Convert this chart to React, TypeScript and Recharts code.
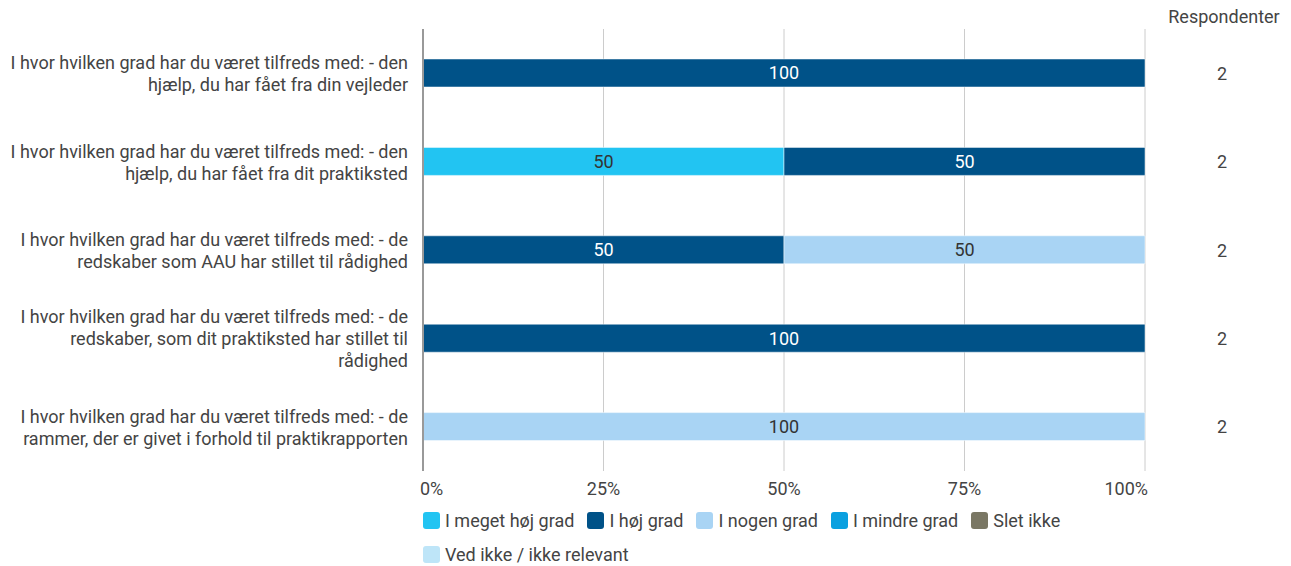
import React from 'react';
import { BarChart, Bar, XAxis, YAxis, CartesianGrid, LabelList, ReferenceLine } from 'recharts';

const questions = [
  'I hvor hvilken grad har du været tilfreds med: - den\nhjælp, du har fået fra din vejleder',
  'I hvor hvilken grad har du været tilfreds med: - den\nhjælp, du har fået fra dit praktiksted',
  'I hvor hvilken grad har du været tilfreds med: - de\nredskaber som AAU har stillet til rådighed',
  'I hvor hvilken grad har du været tilfreds med: - de\nredskaber, som dit praktiksted har stillet til\nrådighed',
  'I hvor hvilken grad har du været tilfreds med: - de\nrammer, der er givet i forhold til praktikrapporten',
];

const meget = [0, 50, 0, 0, 0];
const hoej = [100, 50, 50, 100, 0];
const nogen = [0, 0, 50, 0, 100];
const mindre = [0, 0, 0, 0, 0];
const slet = [0, 0, 0, 0, 0];
const vedIkke = [0, 0, 0, 0, 0];
const respondents = [2, 2, 2, 2, 2];

const xTicks = [0, 25, 50, 75, 100];

const series = [
  { key: 'meget', name: 'I meget høj grad', color: '#22C4F2', text: '#333', values: meget },
  { key: 'hoej', name: 'I høj grad', color: '#005288', text: '#fff', values: hoej },
  { key: 'nogen', name: 'I nogen grad', color: '#A9D4F4', text: '#333', values: nogen },
  { key: 'mindre', name: 'I mindre grad', color: '#0AA0E0', text: '#fff', values: mindre },
  { key: 'slet', name: 'Slet ikke', color: '#7A7764', text: '#fff', values: slet },
  { key: 'vedIkke', name: 'Ved ikke / ikke relevant', color: '#BEE5F8', text: '#333', values: vedIkke },
];

const data = questions.map((q, i) => {
  const row: Record<string, any> = { name: q, n: respondents[i] };
  series.forEach(s => {
    row[s.key] = s.values[i] || undefined;
  });
  return row;
});

const FONT = 'Roboto, sans-serif';
const FS = 18;

const LeftTick = (props: any) => {
  const { x, y, payload } = props;
  const lines = String(payload.value).split('\n');
  const lh = 22;
  const start = y - ((lines.length - 1) * lh) / 2;
  return (
    <text x={x - 7} y={start} textAnchor="end" fill="#444" fontSize={FS} fontFamily={FONT} dominantBaseline="central">
      {lines.map((l, i) => (
        <tspan key={i} x={x - 7} y={start + i * lh}>{l}</tspan>
      ))}
    </text>
  );
};

const RightTick = (props: any) => {
  const { x, y, index } = props;
  return (
    <text x={x + 69} y={y} textAnchor="middle" fill="#444" fontSize={FS} fontFamily={FONT} dominantBaseline="central">
      {respondents[index]}
    </text>
  );
};

const XTick = (props: any) => {
  const { x, y, payload } = props;
  const v = payload.value;
  const anchor = v === 0 ? 'start' : v === 100 ? 'end' : 'middle';
  const dx = v === 0 ? -3 : v === 100 ? 3 : 0;
  return (
    <text x={x + dx} y={y + 16} textAnchor={anchor} fill="#444" fontSize={FS} fontFamily={FONT}>
      {v + '%'}
    </text>
  );
};

export default function App() {
  return (
    <div style={{ position: 'absolute', left: 0, top: 0, width: 1291, height: 566, fontFamily: FONT }}>
      <BarChart
        width={1291}
        height={500}
        data={data}
        layout="vertical"
        margin={{ top: 29, right: 0, bottom: 0, left: 0 }}
      >
        <CartesianGrid horizontal={false} stroke="#ccc" />
        <XAxis type="number" domain={[0, 100]} ticks={xTicks} axisLine={false} tickLine={false} height={29} tick={<XTick />} />
        <YAxis type="category" dataKey="name" width={423} axisLine={false} tickLine={false} tick={<LeftTick />} />
        <YAxis
          yAxisId="r"
          orientation="right"
          type="category"
          dataKey="name"
          width={146}
          axisLine={false}
          tickLine={false}
          tick={<RightTick />}
          label={{ value: 'Respondenter', position: 'top', offset: 6, dx: 6, fill: '#444', fontSize: FS, fontFamily: FONT }}
        />
        <ReferenceLine x={0} stroke="#999" strokeWidth={2} />
        {series.map(s => (
          <Bar key={s.key} dataKey={s.key} name={s.name} stackId="a" fill={s.color} stroke="#fff" strokeWidth={0.5} barSize={28} isAnimationActive={false}>
            <LabelList dataKey={s.key} position="center" fill={s.text} fontSize={FS} fontFamily={FONT} />
          </Bar>
        ))}
      </BarChart>
      <div style={{ position: 'absolute', left: 423, top: 509, width: 700, display: 'flex', flexWrap: 'wrap', columnGap: 13, rowGap: 12 }}>
        {series.map(s => (
          <div key={s.key} style={{ display: 'flex', alignItems: 'center', fontSize: FS, color: '#444', height: 22 }}>
            <span style={{ width: 17, height: 17, borderRadius: 3, background: s.color, marginRight: 5, display: 'inline-block' }} />
            {s.name}
          </div>
        ))}
      </div>
    </div>
  );
}
